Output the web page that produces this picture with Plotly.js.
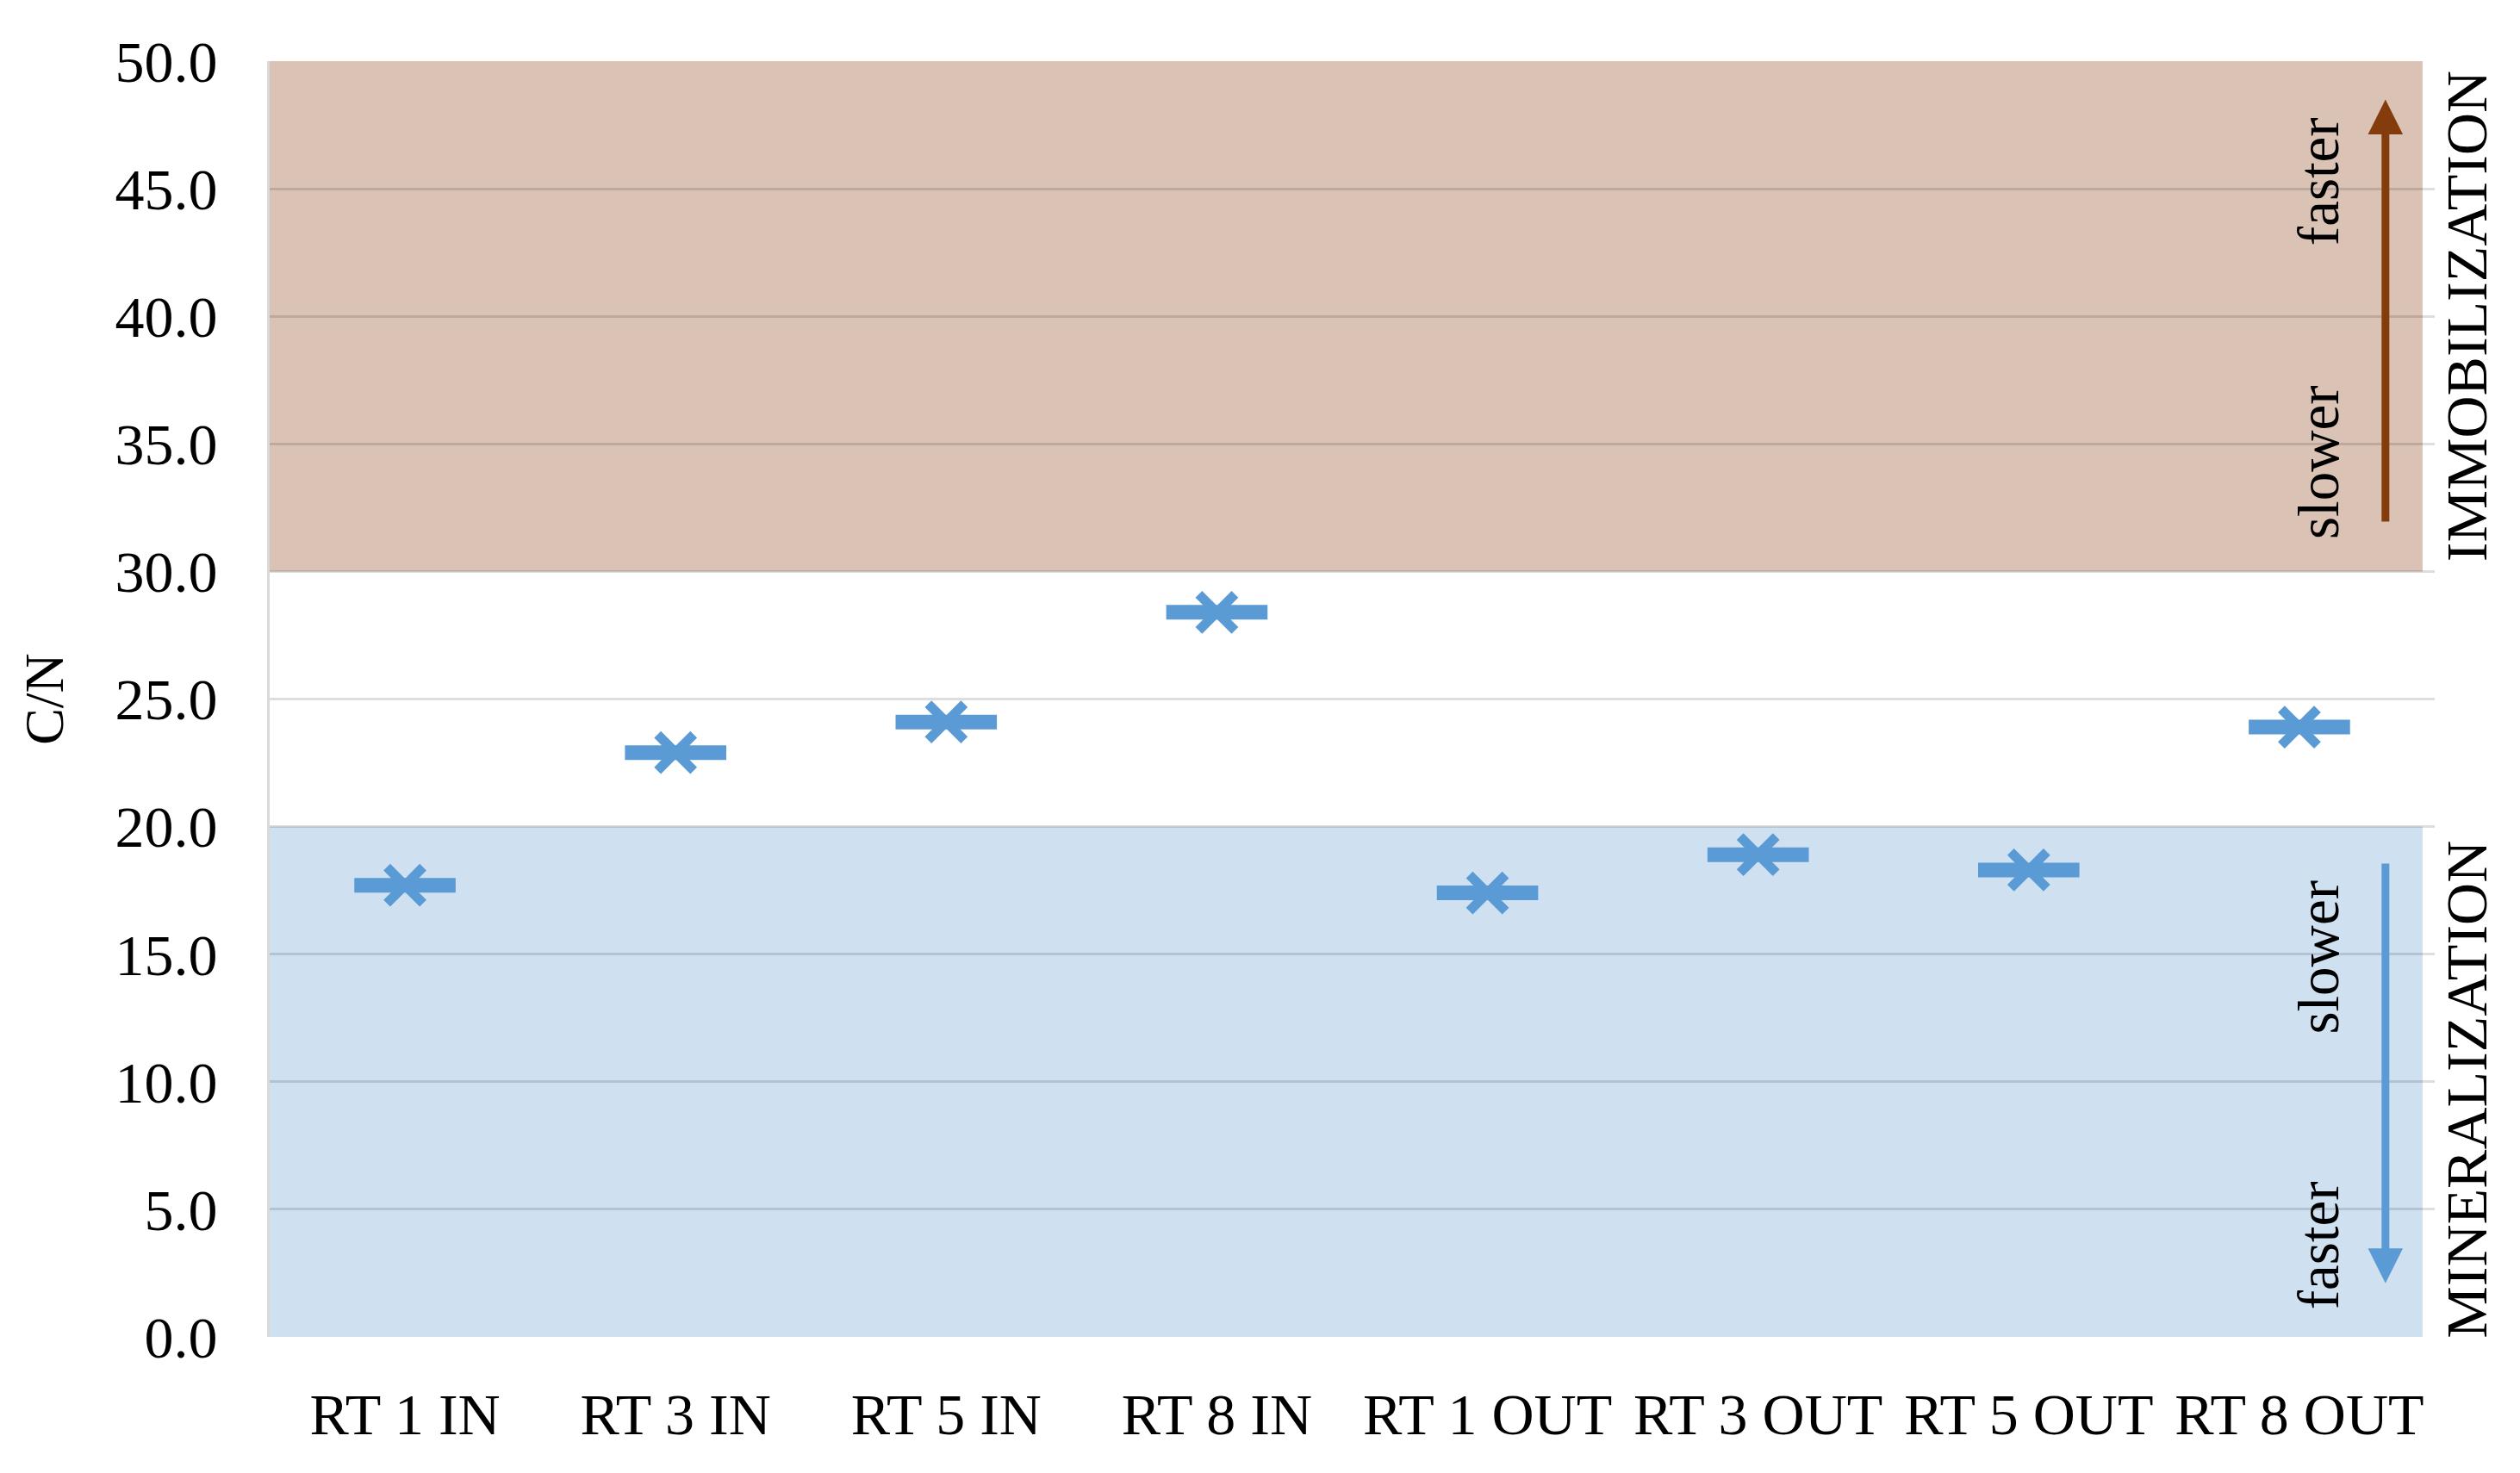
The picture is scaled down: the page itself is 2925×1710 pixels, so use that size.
<!DOCTYPE html>
<html>
<head>
<meta charset="utf-8">
<script src="https://cdn.plot.ly/plotly-3.0.1.min.js"></script>
<style>
  html, body { margin: 0; padding: 0; background: #ffffff; }
  #chart { width: 2925px; height: 1710px; }
</style>
</head>
<body>
<div id="chart"></div>
<script>
// ---- data ----
const categories = ['RT 1 IN', 'RT 3 IN', 'RT 5 IN', 'RT 8 IN', 'RT 1 OUT', 'RT 3 OUT', 'RT 5 OUT', 'RT 8 OUT'];
const cnValues = [17.7, 22.9, 24.1, 28.4, 17.4, 18.9, 18.3, 23.9];
const immobilizationZone = [30, 50];
const mineralizationZone = [0, 20];
const yAxisRange = [0, 50];
const yAxisStep = 5;
const zoneLabels = ['IMMOBILIZATION', 'MINERALIZATION'];
const speedLabels = ['faster', 'slower'];

const FONT = '"Liberation Serif", "Times New Roman", serif';
const BLUE = '#5b9bd5';
const BROWN = '#843c0c';

const traces = [
  {
    x: categories, y: cnValues, type: 'scatter', mode: 'markers',
    marker: { symbol: 'line-ew', size: 84, color: BLUE, line: { color: BLUE, width: 17 } },
    hoverinfo: 'skip', showlegend: false
  },
  {
    x: categories, y: cnValues, type: 'scatter', mode: 'markers',
    marker: { symbol: 'x-thin', size: 42, color: BLUE, line: { color: BLUE, width: 11 } },
    hoverinfo: 'skip', showlegend: false
  }
];

const arrowX = 7.318;
const textX = 7.07;

const layout = {
  width: 2925, height: 1710,
  margin: { l: 313, r: 99, t: 71, b: 158, pad: 0 },
  paper_bgcolor: '#ffffff', plot_bgcolor: '#ffffff',
  font: { family: FONT, size: 68, color: '#000000' },
  showlegend: false,
  xaxis: {
    type: 'category', range: [-0.5, 7.5],
    showgrid: false, zeroline: false, showline: false, ticks: '',
    tickfont: { family: FONT, size: 68, color: '#000000' },
    ticklabelstandoff: 44, automargin: false
  },
  yaxis: {
    range: yAxisRange, dtick: yAxisStep, tick0: 0, tickformat: '.1f',
    showgrid: true, gridcolor: 'rgba(0,0,0,0.13)', gridwidth: 3,
    zeroline: false, showline: true, linecolor: '#d9d9d9', linewidth: 3,
    ticks: '', ticklabelstandoff: 44,
    tickfont: { family: FONT, size: 68, color: '#000000' },
    title: { text: 'C/N', font: { family: FONT, size: 64, color: '#000000' }, standoff: 40 },
    automargin: false
  },
  shapes: [
    { type: 'rect', layer: 'below', xref: 'paper', yref: 'y', x0: 0, x1: 0.9944,
      y0: immobilizationZone[0], y1: immobilizationZone[1], fillcolor: '#dac3b5', line: { width: 0 } },
    { type: 'rect', layer: 'below', xref: 'paper', yref: 'y', x0: 0, x1: 0.9944,
      y0: mineralizationZone[0], y1: mineralizationZone[1], fillcolor: '#cfe0f1', line: { width: 0 } }
  ],
  annotations: [
    { xref: 'paper', yref: 'y', x: 1.0147, y: (immobilizationZone[0] + immobilizationZone[1]) / 2,
      text: zoneLabels[0], showarrow: false, textangle: -90, xanchor: 'center', yanchor: 'middle',
      font: { family: FONT, size: 68, color: '#000000' } },
    { xref: 'paper', yref: 'y', x: 1.0147, y: 9.7,
      text: zoneLabels[1], showarrow: false, textangle: -90, xanchor: 'center', yanchor: 'middle',
      font: { family: FONT, size: 68, color: '#000000' } },
    { xref: 'x', yref: 'y', x: textX, y: 45.3, text: speedLabels[0], showarrow: false, textangle: -90,
      font: { family: FONT, size: 67, color: '#000000' } },
    { xref: 'x', yref: 'y', x: textX, y: 34.3, text: speedLabels[1], showarrow: false, textangle: -90,
      font: { family: FONT, size: 67, color: '#000000' } },
    { xref: 'x', yref: 'y', x: textX, y: 14.9, text: speedLabels[1], showarrow: false, textangle: -90,
      font: { family: FONT, size: 67, color: '#000000' } },
    { xref: 'x', yref: 'y', x: textX, y: 3.6, text: speedLabels[0], showarrow: false, textangle: -90,
      font: { family: FONT, size: 67, color: '#000000' } },
    { xref: 'x', yref: 'y', axref: 'x', ayref: 'y', x: arrowX, y: 48.5, ax: arrowX, ay: 31.9,
      text: '', showarrow: true, arrowhead: 2, arrowsize: 0.9, arrowwidth: 9, arrowcolor: BROWN },
    { xref: 'x', yref: 'y', axref: 'x', ayref: 'y', x: arrowX, y: 2.1, ax: arrowX, ay: 18.6,
      text: '', showarrow: true, arrowhead: 2, arrowsize: 0.9, arrowwidth: 9, arrowcolor: BLUE }
  ]
};

Plotly.newPlot('chart', traces, layout, { staticPlot: true, displayModeBar: false });
</script>
</body>
</html>
